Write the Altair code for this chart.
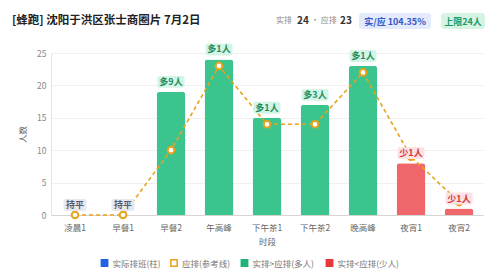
import altair as alt
import pandas as pd

# Time slots and head counts
slots = ["凌晨1", "早餐1", "早餐2", "午高峰", "下午茶1", "下午茶2", "晚高峰", "夜宵1", "夜宵2"]
actual = [0, 0, 19, 24, 15, 17, 23, 8, 1]      # scheduled riders (bars)
planned = [0, 0, 10, 23, 14, 14, 22, 9, 2]     # required riders (reference line)

legend_labels = ["实际排班(柱)", "应排(参考线)", "实排>应排(多人)", "实排<应排(少人)"]

FONT = "Noto Sans CJK SC"
GREEN = "#3cc48f"
RED = "#f0676b"
ORANGE = "#e9a21b"
FS = 8.5

rows = []
for s, a, p in zip(slots, actual, planned):
    d = a - p
    if d > 0:
        kind, txt = "more", f"多{d}人"
    elif d < 0:
        kind, txt = "less", f"少{-d}人"
    else:
        kind, txt = "even", "持平"
    rows.append({"slot": s, "actual": a, "planned": p, "diff": d, "kind": kind, "tag": txt})
df = pd.DataFrame(rows)

max_actual = max(actual)
max_planned = max(planned)
ratio = max_actual / max_planned * 100

W, H = 432, 162
band = alt.Scale(paddingInner=0.4, paddingOuter=0.2)
x_axis = alt.Axis(labelAngle=0, ticks=False, domainColor="#d5d5d5", labelColor="#666",
                  labelFontSize=FS, labelPadding=8, titleColor="#666", titleFontSize=FS,
                  titleFontWeight="normal", titlePadding=6, labelFont=FONT, titleFont=FONT)
x_enc = alt.X("slot:N", sort=slots, title="时段", scale=band, axis=x_axis)

y_scale = alt.Scale(domain=[0, 25])
y_axis = alt.Axis(values=[0, 5, 10, 15, 20, 25], ticks=False, domainColor="#e6e6e6",
                  gridColor="#f0f0f0", labelColor="#888", labelFontSize=FS, labelPadding=5,
                  labelOverlap=False, titleColor="#666", titleFontSize=FS,
                  titleFontWeight="normal", titlePadding=9, labelFont=FONT, titleFont=FONT)

def y_enc(field):
    return alt.Y(f"{field}:Q", title="人数", scale=y_scale, axis=y_axis)

base = alt.Chart(df)

bars = base.mark_bar(cornerRadiusTopLeft=3, cornerRadiusTopRight=3).encode(
    x=x_enc,
    y=y_enc("actual"),
    color=alt.condition("datum.diff < 0", alt.value(RED), alt.value(GREEN)),
)

ref_line = base.mark_line(color=ORANGE, strokeWidth=1.6, strokeDash=[4, 3]).encode(
    x=x_enc, y=y_enc("planned")
)
ref_pts = base.mark_point(filled=True, fill="white", stroke=ORANGE, strokeWidth=2,
                          size=45, opacity=1).encode(
    x=x_enc, y=y_enc("planned")
)

def pill(half_w, half_h=0.44):
    r = 0.18
    a = half_w - r
    return (f"M {-a},{-half_h} L {a},{-half_h} Q {half_w},{-half_h} {half_w},{-half_h + r} "
            f"L {half_w},{half_h - r} Q {half_w},{half_h} {a},{half_h} L {-a},{half_h} "
            f"Q {-half_w},{half_h} {-half_w},{half_h - r} L {-half_w},{-half_h + r} "
            f"Q {-half_w},{-half_h} {-a},{-half_h} Z")

kinds = ["more", "less", "even"]
pills = base.mark_point(filled=True, size=729, opacity=1, yOffset=-10).encode(
    x=x_enc, y=y_enc("actual"),
    shape=alt.Shape("kind:N", scale=alt.Scale(domain=kinds, range=[pill(1), pill(1), pill(0.85)]),
                    legend=None),
    fill=alt.Fill("kind:N", scale=alt.Scale(domain=kinds, range=["#d4f4e5", "#fde1e2", "#e6e8ef"]),
                  legend=None),
)
tags = base.mark_text(font=FONT, fontSize=9, fontWeight="bold", dy=-10, baseline="middle").encode(
    x=x_enc, y=y_enc("actual"),
    text="tag:N",
    color=alt.Color("kind:N", scale=alt.Scale(domain=kinds, range=["#1c8c5c", "#d8353b", "#555b6e"]),
                    legend=None),
)

one = alt.Data(values=[{}])

def text_at(txt, x, y, **kw):
    return alt.Chart(one).mark_text(font=FONT, baseline="middle", **kw).encode(
        x=alt.value(x), y=alt.value(y), text=alt.value(txt))

def box_at(x1, x2, y1, y2, color):
    return alt.Chart(one).mark_rect(cornerRadius=3, color=color).encode(
        x=alt.value(x1), x2=alt.value(x2), y=alt.value(y1), y2=alt.value(y2))

OX, OY = 51, 53  # plot-area origin inside the page
HY = 21          # header row centre
header = [
    text_at("[蜂跑] 沈阳于洪区张士商圈片 7月2日", 12 - OX, HY - OY, align="left",
            fontSize=11.5, fontWeight="bold", color="#222"),
    text_at("实排", 276 - OX, HY - OY, align="left", fontSize=8, color="#888"),
    text_at(f"{max_actual}", 297 - OX, HY - OY, align="left", fontSize=10, fontWeight="bold", color="#333"),
    text_at("· 应排", 311 - OX, HY - OY, align="left", fontSize=8, color="#888"),
    text_at(f"{max_planned}", 340 - OX, HY - OY, align="left", fontSize=10, fontWeight="bold", color="#333"),
    box_at(359 - OX, 431 - OX, HY - 8 - OY, HY + 8 - OY, "#e2eafb"),
    text_at(f"实/应 {ratio:.2f}%", 395 - OX, HY + 0.5 - OY, align="center", fontSize=9,
            fontWeight="bold", color="#3656c8"),
    box_at(441 - OX, 485 - OX, HY - 8 - OY, HY + 8 - OY, "#d6f4e6"),
    text_at(f"上限{max_actual}人", 463 - OX, HY + 0.5 - OY, align="center", fontSize=9,
            fontWeight="bold", color="#1c9a5e"),
]

# Legend row under the axis title
sw_x = [104.5, 174, 244.5, 329.5]
sw_fill = ["#2361e6", "white", "#21b37a", "#e8383d"]
sw_stroke = ["#2361e6", ORANGE, "#21b37a", "#e8383d"]
LY = 263
legend = []
for lab, sx, f, st in zip(legend_labels, sw_x, sw_fill, sw_stroke):
    legend.append(alt.Chart(one).mark_square(size=40, fill=f, stroke=st, strokeWidth=1.5,
                                             opacity=1, filled=True).encode(
        x=alt.value(sx - OX), y=alt.value(LY - OY)))
    legend.append(text_at(lab, sx + 8 - OX, LY + 0.5 - OY, align="left", fontSize=FS, color="#777"))

chart = alt.layer(bars, ref_line, ref_pts, pills, tags, *header, *legend).resolve_scale(
    color="independent", fill="independent", shape="independent"
).properties(
    width=W, height=H,
    autosize=alt.AutoSizeParams(type="none"),
    padding={"left": OX, "top": OY, "right": 500 - OX - W, "bottom": 278 - OY - H},
    background="white",
).configure_view(stroke=None)

chart.save("out.html", embed_options={"renderer": "svg", "actions": False})
